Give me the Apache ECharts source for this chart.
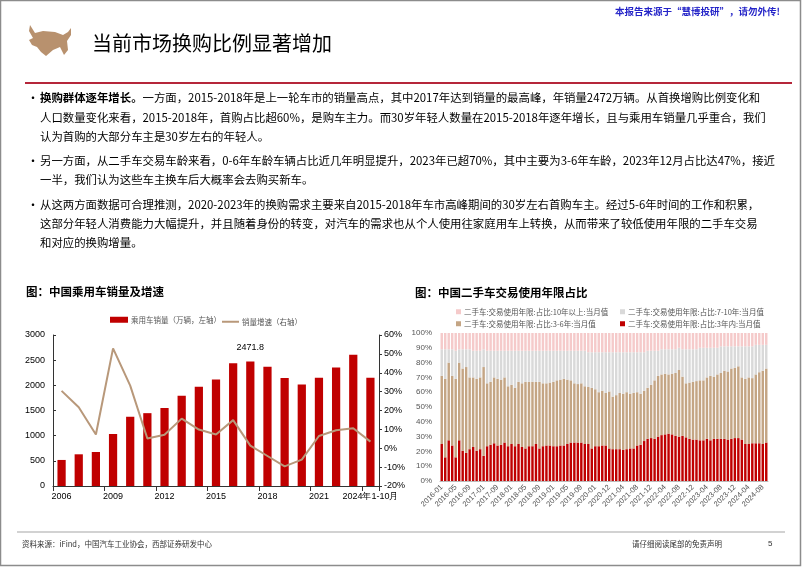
<!DOCTYPE html>
<html><head><meta charset="utf-8">
<script src="https://cdn.jsdelivr.net/npm/echarts@6/dist/echarts.min.js"></script>
<style>html,body{margin:0;padding:0;background:#fff}#c{width:802px;height:567px}</style>
</head><body><div id="c"></div>
<script>
// ---- Left chart data ----
const years = ['2006','2007','2008','2009','2010','2011','2012','2013','2014','2015','2016','2017','2018','2019','2020','2021','2022','2023','2024年1-10月'];
const sales = [517.6,629.7,675.6,1033.1,1375.8,1447.2,1549.5,1792.9,1970.1,2114.6,2437.7,2471.8,2371.0,2144.4,2017.8,2148.2,2356.3,2606.3,2150];
const growth = [30.4,21.7,7.3,52.9,33.2,5.2,7.1,15.7,9.9,7.3,14.9,1.4,-4.1,-9.6,-6.0,6.5,9.5,10.6,3.5];
const peakLabelIndex = 11;

// ---- Right chart data ----
const months = ['2016-01','2016-02','2016-03','2016-04','2016-05','2016-06','2016-07','2016-08','2016-09','2016-10','2016-11','2016-12',
'2017-01','2017-03','2017-05','2017-07','2017-09','2017-10','2017-11','2017-12',
'2018-01','2018-02','2018-03','2018-04','2018-05','2018-06','2018-07','2018-08','2018-09','2018-10','2018-11','2018-12',
'2019-01','2019-02','2019-03','2019-04','2019-05','2019-06','2019-07','2019-08','2019-09','2019-10','2019-11','2019-12',
'2020-01','2020-06','2020-08','2020-10','2020-12',
'2021-01','2021-02','2021-03','2021-04','2021-05','2021-06','2021-07','2021-08','2021-09','2021-10','2021-11','2021-12',
'2022-01','2022-02','2022-03','2022-04','2022-05','2022-06','2022-07','2022-08','2022-09','2022-10','2022-11','2022-12',
'2023-01','2023-02','2023-03','2023-04','2023-05','2023-06','2023-07','2023-08','2023-09','2023-10','2023-11','2023-12',
'2024-01','2024-02','2024-03','2024-04','2024-05','2024-06','2024-07','2024-08','2024-09'];
const within3 = [25,16,27.5,24,16,27.5,20.5,19,21.5,23,20.5,21.5,17,23.5,24.5,25.5,24,24.5,26,23.5,25,23.5,25,23,22,23.5,23.5,25,22,23.5,24,24,23.5,23.5,24,24,25,26,26,26,26,25,25,22,23.5,23.5,24,24,22,21.5,21.5,21.5,21,21.5,22,22,24,24.5,27,28.5,29,28.5,30,31,31.5,32,31.5,30.5,30,30.5,29.5,28.5,28,28,27.5,27.5,28.5,27.5,28.5,28.5,28.5,28.5,28,28.5,29,29,28,25,25,25.5,25.5,25.5,25,26];
const y3to6 = [46,53,52.5,47,53,52.5,55.5,58,48.5,47,48.5,48.5,60,42.5,42.5,44.5,45,44,44,40.5,40,39.5,42,43,45,43.5,43.5,42,45,42.5,42,42.5,43.5,44.5,44.5,45,43.5,42,40,39.5,40,39,38.5,41,38.5,36.5,37,35.5,38.5,35.5,36.5,38,38,38.5,37,37.5,36,34.5,34,34.5,36,39.5,41,41,41,40,41,42.5,45,40,36.5,38,39,39.5,40.5,40.5,41.5,43.5,42,43.5,44.5,46,46,47.5,47.5,48.5,42,44,45,44,46.5,48,49.5,50];
const y7to10 = [18,20,9,18,19,9,13,12,19,18,19,18,12,22,21,18,19,19.5,18,24,23,25,21,22,21,21,21,21,21,22,22,21.5,21,20,19.5,19,19.5,20,22,22.5,22,24,23.5,24,25,27,26,27.5,26.5,30,29,27.5,28,27,28,27.5,27,28,26,25,23,20,17,17,16.5,17,16.5,16,15,18.5,23,22.5,22,21.5,22,22,20,19,19.5,18,18,16.5,17,15,14.5,13.5,21,22,21,21.5,20,18.5,17.5,16];
const over10 = [11,11,11,11,12,11,11,11,11,12,12,12,11,12,12,12,12,12,12,12,12,12,12,12,12,12,12,12,12,12,12,12,12,12,12,12,12,12,12,12,12,12,13,13,13,13,13,13,13,13,13,13,13,13,13,13,13,13,13,12,12,12,12,11,11,11,11,11,10,11,11,11,11,11,10,10,10,10,10,10,9,9,9,9,9,9,9,9,9,9,8,8,8,8];

const nameBar = '乘用车销量（万辆，左轴）';
const nameLine = '销量增速（右轴）';
const nO10 = '二手车:交易使用年限:占比:10年以上:当月值';
const n7to10 = '二手车:交易使用年限:占比:7-10年:当月值';
const n3to6 = '二手车:交易使用年限:占比:3-6年:当月值';
const n3 = '二手车:交易使用年限:占比:3年内:当月值';

const RED = '#C00000', TAN = '#C4A584', GREY = '#D9D9D9', PINK = '#F5CACA', LINE = '#B8987A';
const FF = '"Noto Sans CJK SC","Noto Sans",sans-serif';
const AF = '"Liberation Sans",Arial,sans-serif';

const chart = echarts.init(document.getElementById('c'), null, {renderer:'canvas'});

function txt(x, y, text, size, opts) {
  opts = opts || {};
  return {type:'text', x:x, y:y, z:10, style:Object.assign({text:text, fontSize:size, fontFamily:FF, fill:'#000', verticalAlign:'middle', align:'left'}, opts)};
}

const bodyLines = [
  [98,  '{b|换购群体逐年增长。}一方面，2015-2018年是上一轮车市的销量高点，其中2017年达到销量的最高峰，年销量2472万辆。从首换增购比例变化和', true],
  [118, '人口数量变化来看，2015-2018年，首购占比超60%，是购车主力。而30岁年轻人数量在2015-2018年逐年增长，且与乘用车销量几乎重合，我们'],
  [137, '认为首购的大部分车主是30岁左右的年轻人。'],
  [161, '另一方面，从二手车交易车龄来看，0-6年车龄车辆占比近几年明显提升，2023年已超70%，其中主要为3-6年车龄，2023年12月占比达47%，接近', true],
  [180, '一半，我们认为这些车主换车后大概率会去购买新车。'],
  [205, '从这两方面数据可合理推测，2020-2023年的换购需求主要来自2015-2018年车市高峰期间的30岁左右首购车主。经过5-6年时间的工作和积累，', true],
  [224, '这部分年轻人消费能力大幅提升，并且随着身份的转变，对汽车的需求也从个人使用往家庭用车上转换，从而带来了较低使用年限的二手车交易'],
  [243, '和对应的换购增量。']
];
const graphics = [
  {type:'rect', shape:{x:0.5,y:0.5,width:800,height:565}, style:{fill:'none', stroke:'#8c8c8c', lineWidth:1.5}},
  {type:'polygon', shape:{points:[[30,25],[35,33],[43,31],[55,32],[63,35],[68,32],[71,28],[71,35],[67,41],[68,50],[64,55],[60,47],[53,50],[46,56],[41,52],[37,47],[32,45],[29,40],[33,38],[29,31]]}, style:{fill:'#B8916E'}},
  txt(92, 43, '当前市场换购比例显著增加', 20),
  txt(780, 11, '本报告来源于“慧博投研”，请勿外传!', 9.5, {align:'right', fill:'#2424C8', fontWeight:'bold'}),
  {type:'line', shape:{x1:25,y1:83,x2:792,y2:83}, style:{stroke:'#B5263A', lineWidth:2}},
  {type:'line', shape:{x1:17,y1:532,x2:785,y2:532}, style:{stroke:'#A6A6A6', lineWidth:1.2}},
  txt(22, 544, '资料来源：iFind，中国汽车工业协会，西部证券研发中心', 7.5, {fill:'#333'}),
  txt(722, 544, '请仔细阅读尾部的免责声明', 7.5, {fill:'#333', align:'right'}),
  txt(768, 544, '5', 8, {fill:'#333', fontFamily:AF}),
  txt(26, 292, '图：中国乘用车销量及增速', 11.5, {fontWeight:'bold'}),
  txt(415, 293, '图：中国二手车交易使用年限占比', 11.5, {fontWeight:'bold'})
];
bodyLines.forEach(function(l){
  graphics.push(txt(40, l[0], l[1], 11.4, {rich:{b:{fontWeight:'bold', fontSize:11.4, fontFamily:FF}}}));
  if (l[2]) graphics.push(txt(27, l[0], '•', 12));
});

function legendItem(name, left, top, icon, w, h, color) {
  const o = {data:[name], left:left, top:top, itemWidth:w, itemHeight:h, itemGap:0, padding:0,
    icon: icon, textStyle:{fontSize:7.5, fontFamily:FF, color:'#555', padding:[0,0,0,-2]}};
  if (color) o.itemStyle = {color:color};
  return o;
}

const option = {
  animation:false,
  backgroundColor:'#fff',
  graphic: graphics,
  legend:[
    legendItem(nameBar, 110, 316, 'rect', 18, 6),
    legendItem(nameLine, 222, 318, 'rect', 17, 2, LINE),
    legendItem(nO10, 456, 308, 'rect', 5, 5),
    legendItem(n7to10, 620, 308, 'rect', 5, 5),
    legendItem(n3to6, 456, 320, 'rect', 5, 5),
    legendItem(n3, 620, 320, 'rect', 5, 5)
  ],
  grid:[
    {left:53, right:423, top:335, bottom:81},
    {left:440, right:34, top:333, bottom:86}
  ],
  xAxis:[
    {type:'category', gridIndex:0, data:years,
     axisLine:{lineStyle:{color:'#333'}}, axisTick:{show:true, lineStyle:{color:'#333'}},
     axisLabel:{interval:2, fontSize:9, color:'#000', fontFamily:AF, margin:6, showMaxLabel:true}},
    {type:'category', gridIndex:1, data:months,
     axisLine:{show:true, lineStyle:{color:'#bbb'}}, axisTick:{show:false},
     axisLabel:{interval:3, rotate:45, fontSize:7.5, color:'#555', fontFamily:AF, margin:5}}
  ],
  yAxis:[
    {type:'value', gridIndex:0, min:0, max:3000, interval:500,
     axisLine:{show:true, lineStyle:{color:'#333'}}, axisTick:{show:true, inside:true, length:3, lineStyle:{color:'#333'}},
     splitLine:{show:false}, axisLabel:{fontSize:9, color:'#000', fontFamily:AF, margin:8, formatter:function(v){return String(v);}}},
    {type:'value', gridIndex:0, min:-20, max:60, interval:10, position:'right',
     axisLine:{show:true, lineStyle:{color:'#333'}}, axisTick:{show:true, inside:false, length:3, lineStyle:{color:'#333'}},
     splitLine:{show:false}, axisLabel:{fontSize:9, color:'#000', fontFamily:AF, formatter:'{value}%', margin:5}},
    {type:'value', gridIndex:1, min:0, max:100, interval:10,
     axisLine:{show:false}, axisTick:{show:false}, splitLine:{show:false},
     axisLabel:{fontSize:8, color:'#555', fontFamily:AF, formatter:'{value}%', margin:8}}
  ],
  series:[
    {name:nameBar, type:'bar', xAxisIndex:0, yAxisIndex:0, barWidth:'48%', itemStyle:{color:RED},
     data: sales.map(function(v,i){ return i===peakLabelIndex ? {value:v, label:{show:true, position:'top', distance:10, fontSize:9, color:'#000', fontFamily:AF}} : v; })},
    {name:nameLine, type:'line', xAxisIndex:0, yAxisIndex:1, data:growth, symbol:'none',
     lineStyle:{color:LINE, width:2}, itemStyle:{color:LINE}},
    {name:n3, type:'bar', xAxisIndex:1, yAxisIndex:2, stack:'u', data:within3, barCategoryGap:'30%', itemStyle:{color:RED}},
    {name:n3to6, type:'bar', xAxisIndex:1, yAxisIndex:2, stack:'u', data:y3to6, barCategoryGap:'30%', itemStyle:{color:TAN}},
    {name:n7to10, type:'bar', xAxisIndex:1, yAxisIndex:2, stack:'u', data:y7to10, barCategoryGap:'30%', itemStyle:{color:GREY}},
    {name:nO10, type:'bar', xAxisIndex:1, yAxisIndex:2, stack:'u', data:over10, barCategoryGap:'30%', itemStyle:{color:PINK}}
  ]
};
chart.setOption(option);
</script>
</body></html>
